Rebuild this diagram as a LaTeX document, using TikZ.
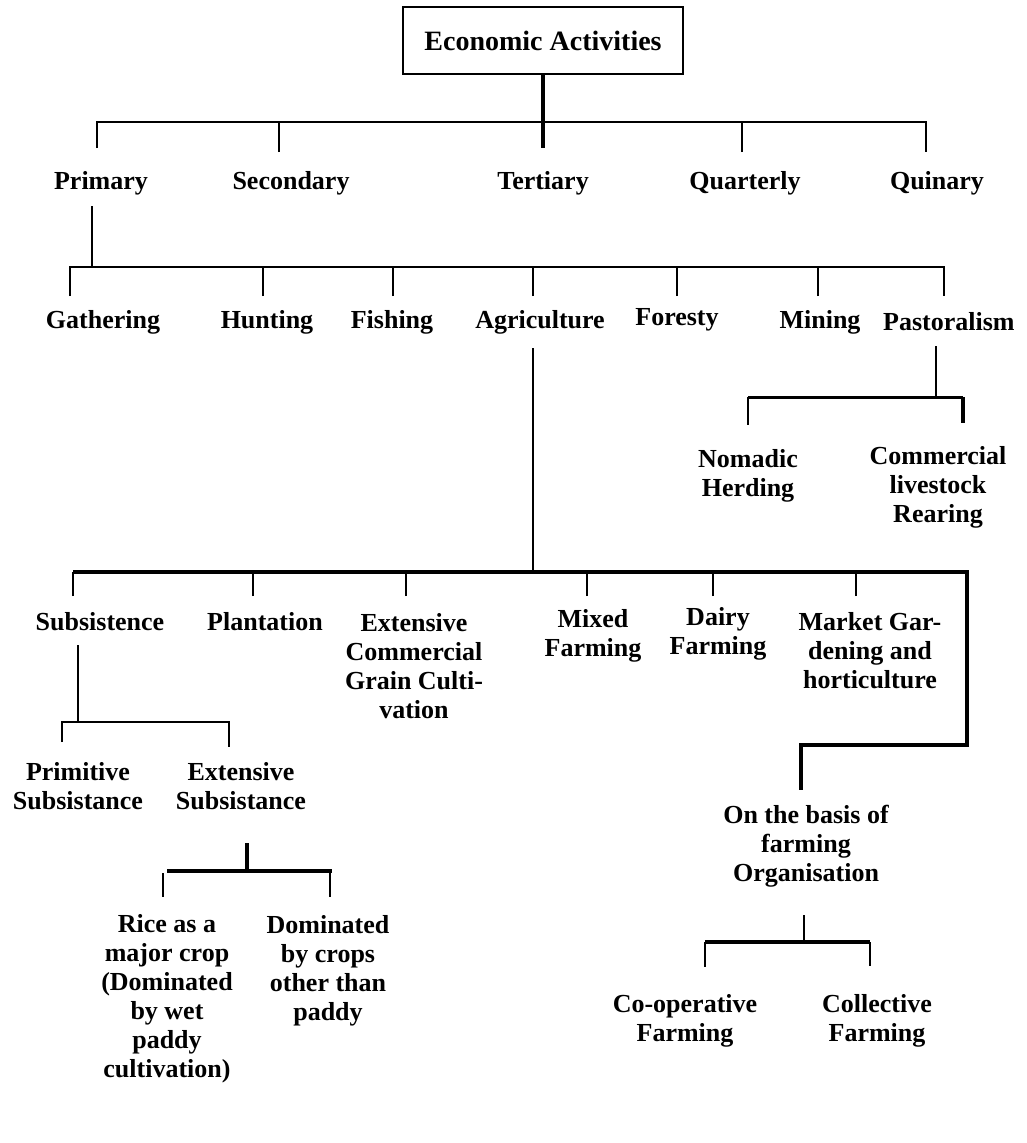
\documentclass[tikz,border=0pt]{standalone}
\usepackage{fontspec}
\setmainfont{Liberation Serif}
\begin{document}
\begin{tikzpicture}[x=1pt,y=-1pt,
  lab/.style={font=\bfseries\fontsize{26}{29}\selectfont, align=center, inner sep=0pt},
  ln/.style={line width=2pt},
  mln/.style={line width=3pt},
  thk/.style={line width=4pt}]
\useasboundingbox[fill=white] (0,0) rectangle (1026,1143);

% ---------- Level 0 ----------
\node[draw, line width=2pt, minimum width=280pt, minimum height=67pt, inner sep=0pt,
      font=\bfseries\fontsize{28}{30}\selectfont] (ea) at (543,40.5) {Economic Activities};

% ---------- Level 1 ----------
\node[lab] (pri) at (101,183) {Primary};
\node[lab] (sec) at (291,183) {Secondary};
\node[lab] (ter) at (543,183) {Tertiary};
\node[lab] (qua) at (745,183) {Quarterly};
\node[lab] (qui) at (937,183) {Quinary};

\coordinate (b1a) at (97,122);  \coordinate (b1e) at (926,122);
\coordinate (d1a) at (97,148);  \coordinate (d1b) at (279,152);
\coordinate (d1c) at (543,148); \coordinate (d1d) at (742,152);
\coordinate (d1e) at (926,152);
\draw[ln] (d1a) -- (b1a) -- (b1e) -- (d1e);
\draw[ln] (d1b) -- (d1b |- b1a);
\draw[ln] (d1d) -- (d1d |- b1a);
\draw[thk] (ea.south) -- (d1c);

% ---------- Level 2 ----------
\node[lab] (gat) at (103,322) {Gathering};
\node[lab] (hun) at (267,322) {Hunting};
\node[lab] (fis) at (392,322) {Fishing};
\node[lab] (agr) at (540,322) {Agriculture};
\node[lab] (fore) at (677,320) {Foresty};
\node[lab] (mini) at (820,322) {Mining};
\node[lab, anchor=west] (pas) at (883,322) {Pastoralism};

\coordinate (p1) at (92,206); \coordinate (p2) at (92,267);
\coordinate (b2a) at (70,267); \coordinate (b2g) at (944,267);
\draw[ln] (p1) -- (p2);
\draw[ln] (70,296) coordinate (d2a) -- (b2a) -- (b2g) -- (944,296) coordinate (d2g);
\foreach \x/\n in {263/b,393/c,533/d,677/e,818/f}{
  \coordinate (d2\n) at (\x,296);
  \draw[ln] (d2\n) -- (d2\n |- b2a);
}

% ---------- Pastoralism branch ----------
\node[lab] (nom) at (748,476) {Nomadic\\Herding};
\node[lab] (com) at (938,487) {Commercial\\livestock\\Rearing};
\coordinate (ps1) at (936,346); \coordinate (ps2) at (936,397);
\coordinate (pb1) at (748,397); \coordinate (pb2) at (963,397);
\coordinate (pd1) at (748,425); \coordinate (pd2) at (963,423);
\draw[ln] (ps1) -- (ps2);
\draw[mln] (pb1) -- (pb2);
\draw[ln] (pb1) -- (pd1);
\draw[thk] (pb2) -- (pd2);

% ---------- Agriculture branch ----------
\node[lab] (sub) at (100,622) {Subsistence};
\node[lab] (pla) at (265,622) {Plantation};
\node[lab] (ext) at (414,666.5) {Extensive\\Commercial\\Grain Culti-\\vation};
\node[lab] (mix) at (593,636) {Mixed\\Farming};
\node[lab] (dai) at (718,634) {Dairy\\Farming};
\node[lab] (mkt) at (870,651) {Market Gar-\\dening and\\horticulture};

\coordinate (as1) at (533,348); \coordinate (as2) at (533,572);
\draw[ln] (as1) -- (as2);
\coordinate (b3a) at (73,572); \coordinate (b3r) at (967,572);
\coordinate (b3c) at (967,745); \coordinate (b3d) at (801,745);
\coordinate (b3e) at (801,790);
\draw[thk, line join=miter] (b3a) -- (b3r) -- (b3c) -- (b3d) -- (b3e);
\foreach \x/\n in {73/a,253/b,406/c,587/d,713/e,856/f}{
  \coordinate (d3\n) at (\x,596);
  \draw[ln] (d3\n) -- (d3\n |- b3a);
}

% ---------- Subsistence branch ----------
\node[lab] (prim) at (78,786) {Primitive\\Subsistance};
\node[lab] (exs) at (241,786) {Extensive\\Subsistance};
\coordinate (ss1) at (78,645); \coordinate (ss2) at (78,722);
\coordinate (sb1) at (62,722); \coordinate (sb2) at (229,722);
\coordinate (sd1) at (62,742); \coordinate (sd2) at (229,747);
\draw[ln] (ss1) -- (ss2);
\draw[ln] (sd1) -- (sb1) -- (sb2) -- (sd2);

% ---------- Extensive subsistance branch ----------
\node[lab] (ric) at (167,999) {Rice as a\\major crop\\(Dominated\\by wet\\paddy\\cultivation)};
\node[lab] (dom) at (328,970.5) {Dominated\\by crops\\other than\\paddy};
\coordinate (es1) at (247,843); \coordinate (es2) at (247,871);
\coordinate (eb1) at (167,871); \coordinate (eb2) at (332,871);
\coordinate (ed1t) at (163,873); \coordinate (ed1) at (163,897);
\coordinate (ed2t) at (330,871); \coordinate (ed2) at (330,897);
\draw[thk] (es1) -- (es2);
\draw[thk] (eb1) -- (eb2);
\draw[ln] (ed1t) -- (ed1);
\draw[ln] (ed2t) -- (ed2);

% ---------- Organisation branch ----------
\node[lab] (org) at (806,846) {On the basis of\\farming\\Organisation};
\node[lab] (coo) at (685,1021) {Co-operative\\Farming};
\node[lab] (col) at (877,1021) {Collective\\Farming};
\coordinate (os1) at (804,915); \coordinate (os2) at (804,942);
\coordinate (ob1) at (705,942); \coordinate (ob2) at (870,942);
\coordinate (od1) at (705,967); \coordinate (od2) at (870,966);
\draw[ln] (os1) -- (os2);
\draw[thk] (ob1) -- (ob2);
\draw[ln] (ob1) -- (od1);
\draw[ln] (ob2) -- (od2);
\end{tikzpicture}
\end{document}
